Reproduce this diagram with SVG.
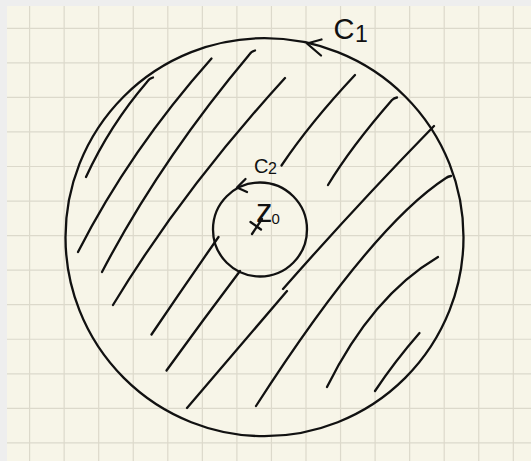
<svg xmlns="http://www.w3.org/2000/svg" width="531" height="461" viewBox="0 0 531 461">
<style>
.ink{fill:none;stroke:#111;stroke-width:2.3;stroke-linecap:round;stroke-linejoin:round}
.grid{fill:none;stroke:#dcd9cb;stroke-width:1.2}
.lbl{font-family:"Liberation Sans",Arial,sans-serif;fill:#111}
</style>
<g id="paper">
<rect width="531" height="461" fill="#eeeeee"/>
<rect x="7" y="6" width="524" height="455" fill="#f7f5e8"/>
</g>
<g id="grid">
<path class="grid" d="M29.6,6V461M64.15,6V461M98.7,6V461M133.25,6V461M167.8,6V461M202.35,6V461M236.9,6V461M271.45,6V461M306,6V461M340.55,6V461M375.1,6V461M409.65,6V461M444.2,6V461M478.75,6V461M513.3,6V461M7,28.3H531M7,62.85H531M7,97.4H531M7,131.95H531M7,166.5H531M7,201.05H531M7,235.6H531M7,270.15H531M7,304.7H531M7,339.25H531M7,373.8H531M7,408.35H531M7,442.9H531"/>
</g>
<g id="hatching">
<path class="ink" d="M86,177 Q110,125 147,82 Q149,78.5 153,77.5"/>
<path class="ink" d="M78,252 Q130,150 211.5,58.5"/>
<path class="ink" d="M102,272 Q160,161 249,55 Q251,51.5 255,50.5"/>
<path class="ink" d="M113,305 Q182,191 285,78"/>
<path class="ink" d="M355,75 Q310,123 281.5,165.5"/>
<path class="ink" d="M328,185 Q351,147 392,100 Q394,98 397,97.5"/>
<path class="ink" d="M434,126 Q356,206 283,289"/>
<path class="ink" d="M287,291 Q226,362 187,408"/>
<path class="ink" d="M256,406 Q372,226 446,178 Q448,176.5 451,176"/>
<path class="ink" d="M438,257 Q372,296 327,387"/>
<path class="ink" d="M419.5,333 Q395,361 375,391"/>
<path class="ink" d="M218.5,237 Q185,285 151.5,334.5"/>
<path class="ink" d="M240,271 Q203,320 166.5,370.5"/>
</g>
<g id="C1">
<circle class="ink" cx="264.5" cy="237.2" r="199"/>
<path class="ink" d="M321.5,39.5 L307,43.5 L321,55.5"/>
<text class="lbl" x="333.5" y="39" font-size="29">C<tspan x="355" y="42.3" font-size="23">1</tspan></text>
</g>
<g id="C2">
<circle class="ink" cx="260" cy="229.5" r="47"/>
<path class="ink" d="M245.5,179 L237,187.5 L247,192"/>
<text class="lbl" x="254" y="173.3" font-size="20">C<tspan x="268" y="174.3" font-size="16">2</tspan></text>
</g>
<g id="z0">
<path class="ink" d="M250.5,222 L261,229.5 M252,234 L262,219"/>
<text class="lbl" x="256" y="222" font-size="33">z<tspan x="271.5" y="224.3" font-size="15">0</tspan></text>
</g>
</svg>
